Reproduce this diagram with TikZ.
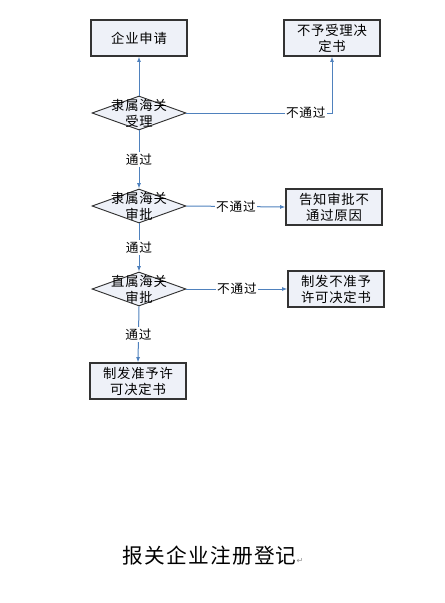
\documentclass[tikz,border=0pt]{standalone}
\usepackage{fontspec}
\setmainfont{Noto Sans CJK SC}[LetterSpace=6]
\newfontfamily\symfont{DejaVu Sans}
\usetikzlibrary{shapes.geometric,arrows.meta,positioning,calc}
\definecolor{flowline}{HTML}{4F81BD}
\definecolor{boxfill}{HTML}{EEF1F8}

\begin{document}
\begin{tikzpicture}[
    x=0.75pt, y=-0.75pt,
    block/.style={rectangle, draw=black!80, line width=0.9pt, fill=boxfill, text width=68pt, align=center, minimum width=72pt, minimum height=27pt, inner sep=1pt, font=\fontsize{10}{12}\selectfont},
    decision/.style={diamond, draw=black!80, line width=0.7pt, fill=boxfill, minimum width=70.5pt, minimum height=25.5pt, inner sep=0pt},
    dtext/.style={align=center, inner sep=0pt, font=\fontsize{10}{12}\selectfont},
    tag/.style={fill=white, inner sep=1pt, font=\fontsize{9.5}{11}\selectfont},
    line/.style={draw=flowline, line width=0.75pt, -{Latex[length=4pt,width=3pt]}}
]
    \useasboundingbox (0,0) rectangle (444,603);

    % Nodes
    \node [block] (apply) at (139,38) {企业申请};
    \node [block] (reject) at (332,38) {不予受理决\\定书};
    \node [decision] (accept) at (139,113) {};
    \node [dtext] (accepttxt) at (accept) {隶属海关\\受理};
    \node [decision] (check) at (139,206) {};
    \node [dtext] (checktxt) at (check) {隶属海关\\审批};
    \node [block] (notify) at (334,207) {告知审批不\\通过原因};
    \node [decision] (approve) at (139,289) {};
    \node [dtext] (approvetxt) at (approve) {直属海关\\审批};
    \node [block] (deny) at (336,289) {制发不准予\\许可决定书};
    \node [block] (grant) at (138,381) {制发准予许\\可决定书};
    \node (title) at (213,556) {\fontsize{15.5}{17}\selectfont 报关企业注册登记\textcolor{black!45}{\symfont\fontsize{6}{7}\selectfont ↵}};

    % Connections
    \draw [line] (accept.north) -- (apply.south);
    \draw [line] (accept.east) -- node [tag, pos=0.82] {不通过} (reject.south |- accept.east) -- (reject.south);
    \draw [line] (accept.south) -- node [tag] {通过} (check.north);
    \draw [line] (check.east) -- node [tag] {不通过} (notify.west);
    \draw [line] (check.south) -- node [tag] {通过} (approve.north);
    \draw [line] (approve.east) -- node [tag] {不通过} (deny.west);
    \draw [line] (approve.south) -- node [tag] {通过} (grant.north);

\end{tikzpicture}
\end{document}
